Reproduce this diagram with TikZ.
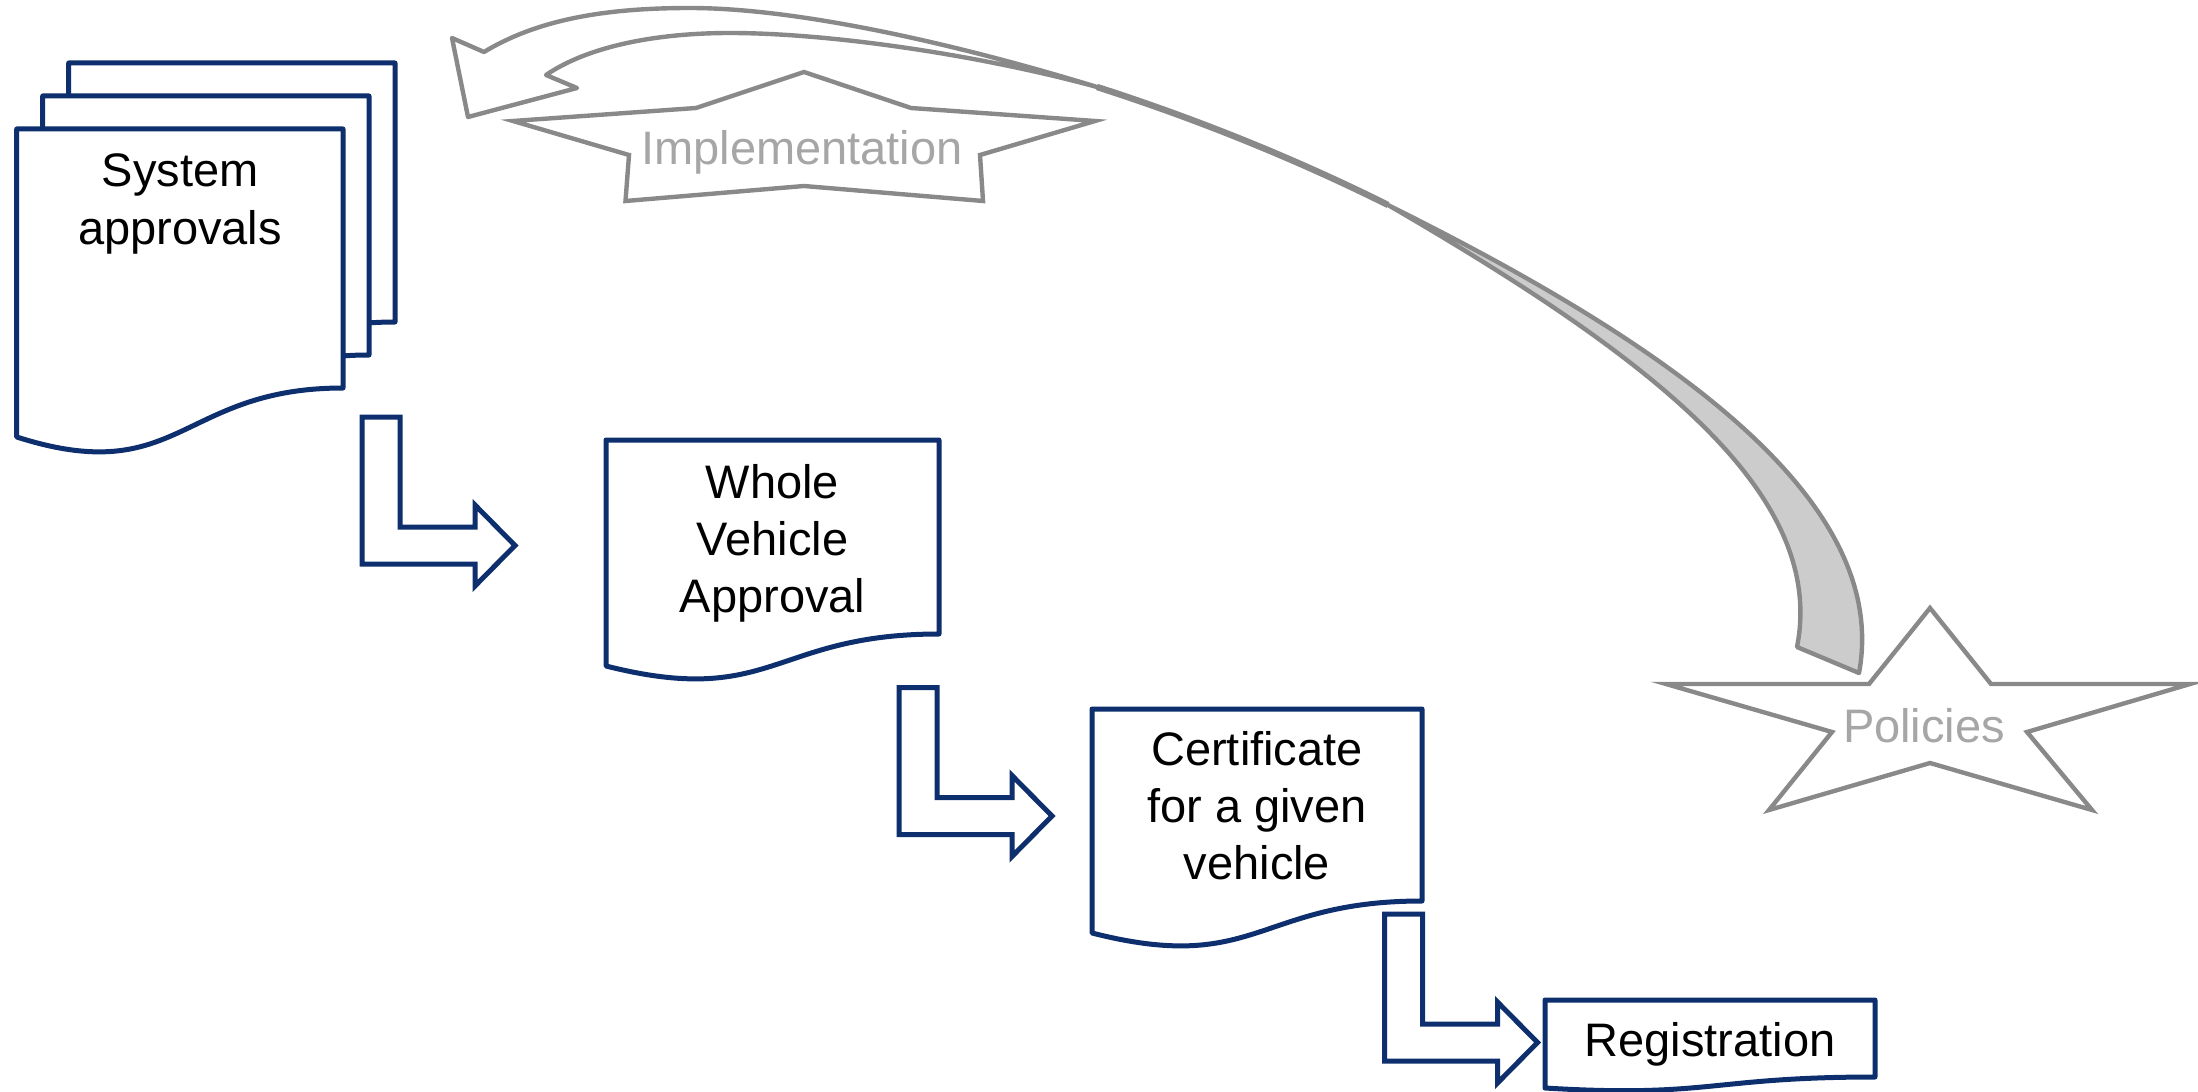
\documentclass[tikz,border=0pt]{standalone}
\usepackage{fontspec}
\setmainfont{Liberation Sans}
\definecolor{navy}{RGB}{14,47,110}
\definecolor{lgray}{RGB}{137,137,137}
\definecolor{bandfill}{RGB}{204,204,204}
\definecolor{txtgray}{RGB}{166,166,166}
% document shape: style, left, top, right, yRight, yLeft, control y
\newcommand\docshape[7]{%
  \path[#1] (#2,#3) -- (#4,#3) -- (#4,#5)
    .. controls ({(#2+#4)/2},#5) and ({(#2+#4)/2},#7) .. (#2,#6) -- cycle;}
\begin{document}
\begin{tikzpicture}[x=0.5pt,y=-0.5pt,
  docline/.style={draw=navy,line width=2.5pt,fill=white,line join=round},
  bentarrow/.style={draw=navy,line width=2.5pt,fill=white,line join=miter},
  grayline/.style={draw=lgray,line width=2.2pt,line join=miter},
  bandline/.style={draw=lgray,line width=2.2pt,line join=round},
  doctext/.style={font=\fontsize{23.5}{28.5}\selectfont,align=center,anchor=base,inner sep=0pt,text=black},
  startext/.style={font=\fontsize{23.5}{28.5}\selectfont,anchor=base,inner sep=0pt,text=txtgray}]
\useasboundingbox (0,0) rectangle (2198,1091);
\clip (0,0) rectangle (2198,1091);

% System approvals stack
\docshape{docline}{68.7}{63}{395}{322}{371}{423}
\docshape{docline}{42.7}{96}{369}{355}{404}{456}
\docshape{docline}{16.7}{129}{343}{388}{437}{489}
\node[doctext] (sa) at (180,244) {System\\approvals};

% Whole Vehicle Approval
\docshape{docline}{606}{440}{939}{634}{666}{708}
\node[doctext] (wva) at (772.5,612) {Whole\\Vehicle\\Approval};

% Certificate
\docshape{docline}{1092}{709}{1422}{901}{933}{975}
\node[doctext] (cert) at (1257,879.5) {Certificate\\for a given\\vehicle};

% Registration
\docshape{docline}{1545}{1000}{1875}{1077}{1088}{1098}
\node[doctext] (reg) at (1710,1056) {Registration};

% bent arrows
\foreach \dx/\dy in {0/0, 537/270.5, 1022.5/497}{
  \draw[bentarrow, shift={(\dx,\dy)}] (362,417) -- (400,417) -- (400,527) -- (475,527)
    -- (475,505) -- (515,545.5) -- (475,586) -- (475,564) -- (362,564) -- cycle;
}

% Implementation star
\draw[grayline, fill=white] (804,72) -- (911,108) -- (1095,121) -- (980,155) -- (983,201)
  -- (804,186) -- (625.5,201) -- (629,155) -- (513,121) -- (696,108) -- cycle;
\node[startext] (impl) at (802,165) {Implementation};

% Policies star
\draw[grayline, fill=white] (1930,608) -- (1991,684) -- (2190,684) -- (2027,732) -- (2092,810)
  -- (1930,763) -- (1769,810) -- (1832,732) -- (1666,684) -- (1869,684) -- cycle;
\node[startext] (pol) at (1924,742) {Policies};

% curved ribbon arrow from Policies to Implementation
\draw[bandline, fill=white] (484,52) .. controls (540,18) and (610,8) .. (690,8)
  .. controls (800,8) and (960,45) .. (1097,87)
  .. controls (980,55) and (830,33) .. (730,33)
  .. controls (660,33) and (590,45) .. (546,75)
  -- (577,88) -- (468,117) -- (452,38) -- cycle;
\draw[bandline, line width=3.2pt] (1097,87) .. controls (1200,120) and (1300,161) .. (1388,205);
\draw[bandline, fill=bandfill] (1388,205) .. controls (1643,332) and (1893,490) .. (1859,673)
  -- (1797,647) .. controls (1828,490) and (1643,353) .. (1388,205) -- cycle;
\end{tikzpicture}
\end{document}
